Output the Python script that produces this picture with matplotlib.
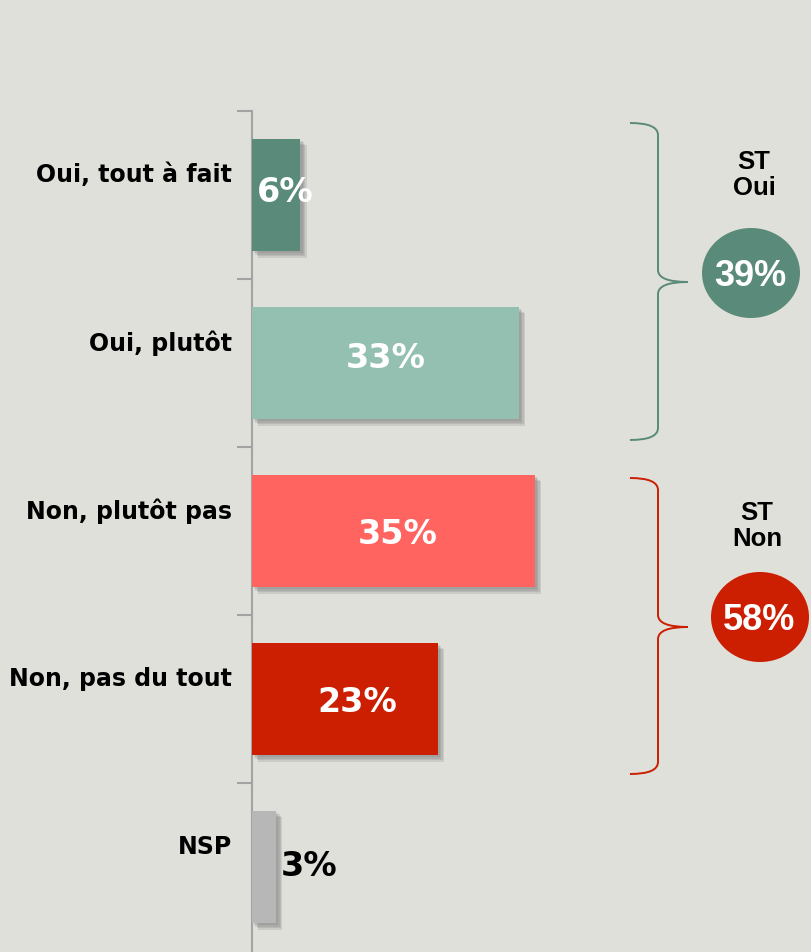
import matplotlib
matplotlib.use("Agg")
import matplotlib.pyplot as plt
import matplotlib.patheffects as pe
from matplotlib.path import Path
from matplotlib.patches import PathPatch, Ellipse

# ------------------------------------------------------------------ data
categories = ["Oui, tout à fait", "Oui, plutôt", "Non, plutôt pas",
              "Non, pas du tout", "NSP"]
values = [6, 33, 35, 23, 3]
bar_colors = ["#5a8a79", "#93c0b0", "#ff6460", "#cc1e00", "#b7b7b7"]

groups = ["ST\nOui", "ST\nNon"]
group_values = [39, 58]
group_colors = ["#5a8a79", "#cc1e00"]

BG = "#dfe0da"
W, H = 812, 952

fig = plt.figure(figsize=(W / 100, H / 100), dpi=100, facecolor=BG)

# main bar axes: spine at x=252px, bands of 168px from y=111px down
ax = fig.add_axes([252 / W, 1 / H, 560 / W, 840 / H])
ax.set_facecolor("none")
ax.set_xlim(0, 560 / 8.08)
ax.set_ylim(len(categories) - 0.5, -0.5)

# soft drop shadow: a few stacked translucent copies
shadow = [pe.SimplePatchShadow(offset=(d, -d), shadow_rgbFace="#6e6e6e", alpha=0.18)
          for d in (1.5, 2.5, 3.5, 4.5)] + [pe.Normal()]
bars = ax.barh(range(len(values)), values, height=0.67, color=bar_colors,
               zorder=3)
for b in bars:
    b.set_path_effects(shadow)

for sp in ("top", "right", "bottom"):
    ax.spines[sp].set_visible(False)
ax.spines["left"].set_color("#a3a3a3")
ax.spines["left"].set_linewidth(1.5)
ax.set_xticks([])
ax.set_yticks([i - 0.5 for i in range(len(categories))])
ax.set_yticklabels([])
ax.tick_params(axis="y", length=11, width=1.5, color="#a3a3a3", direction="out")

for i, (lab, v) in enumerate(zip(categories, values)):
    ax.annotate(lab, xy=(0, i), xytext=(-20, 20), textcoords="offset pixels",
                ha="right", va="center", fontsize=17, fontweight="bold",
                family="DejaVu Sans", color="black", annotation_clip=False)

# value labels
lab_kw = dict(va="center", fontsize=24, fontweight="bold", family="DejaVu Sans")
ax.annotate(f"{values[0]}%", xy=(0, 0), xytext=(5, 2), textcoords="offset pixels",
            ha="left", color="white", zorder=5, **lab_kw)
ax.annotate(f"{values[1]}%", xy=(values[1] / 2, 1), xytext=(0, 5),
            textcoords="offset pixels", ha="center", color="white", zorder=5, **lab_kw)
ax.annotate(f"{values[2]}%", xy=(values[2] / 2, 2), xytext=(4, -3),
            textcoords="offset pixels", ha="center", color="white", zorder=5, **lab_kw)
ax.annotate(f"{values[3]}%", xy=(values[3] / 2, 3), xytext=(12, -3),
            textcoords="offset pixels", ha="center", color="white", zorder=5, **lab_kw)
ax.annotate(f"{values[4]}%", xy=(values[4], 4), xytext=(5, 1),
            textcoords="offset pixels", ha="left", color="black", zorder=5, **lab_kw)

# overlay in pixel coordinates for brackets and circles
ov = fig.add_axes([0, 0, 1, 1])
ov.set_xlim(0, W)
ov.set_ylim(H, 0)
ov.axis("off")
ov.patch.set_alpha(0)


def brace(x0, x1, tip, top, mid, bot, color):
    r = 12
    verts = [(x0, top), (x1, top), (x1, top + r),
             (x1, mid - r), (x1, mid), (tip, mid),
             (x1, mid), (x1, mid + r),
             (x1, bot - r), (x1, bot), (x0, bot)]
    codes = [Path.MOVETO, Path.CURVE3, Path.CURVE3,
             Path.LINETO, Path.CURVE3, Path.CURVE3,
             Path.CURVE3, Path.CURVE3,
             Path.LINETO, Path.CURVE3, Path.CURVE3]
    ov.add_patch(PathPatch(Path(verts, codes), fill=False, edgecolor=color, lw=1.4))


brace(630, 658, 688, 123, 282, 440, group_colors[0])
brace(630, 658, 688, 478, 627, 774, group_colors[1])

circles = [((751, 273), (754, 175)), ((760, 617), (757, 526))]
for (cxy, txy), g, gv, col in zip(circles, groups, group_values, group_colors):
    ov.add_patch(Ellipse(cxy, 98, 90, facecolor=col, edgecolor="none"))
    ov.text(cxy[0] - 1, cxy[1] + 4, f"{gv}%", ha="center", va="center", color="white",
            fontsize=26, fontweight="bold", family="Liberation Sans")
    ov.text(txy[0], txy[1], g, ha="center", va="center", color="black",
            fontsize=18.5, fontweight="bold", family="Liberation Sans",
            linespacing=1.1)

fig.savefig("out.png", dpi=100, facecolor=BG)
